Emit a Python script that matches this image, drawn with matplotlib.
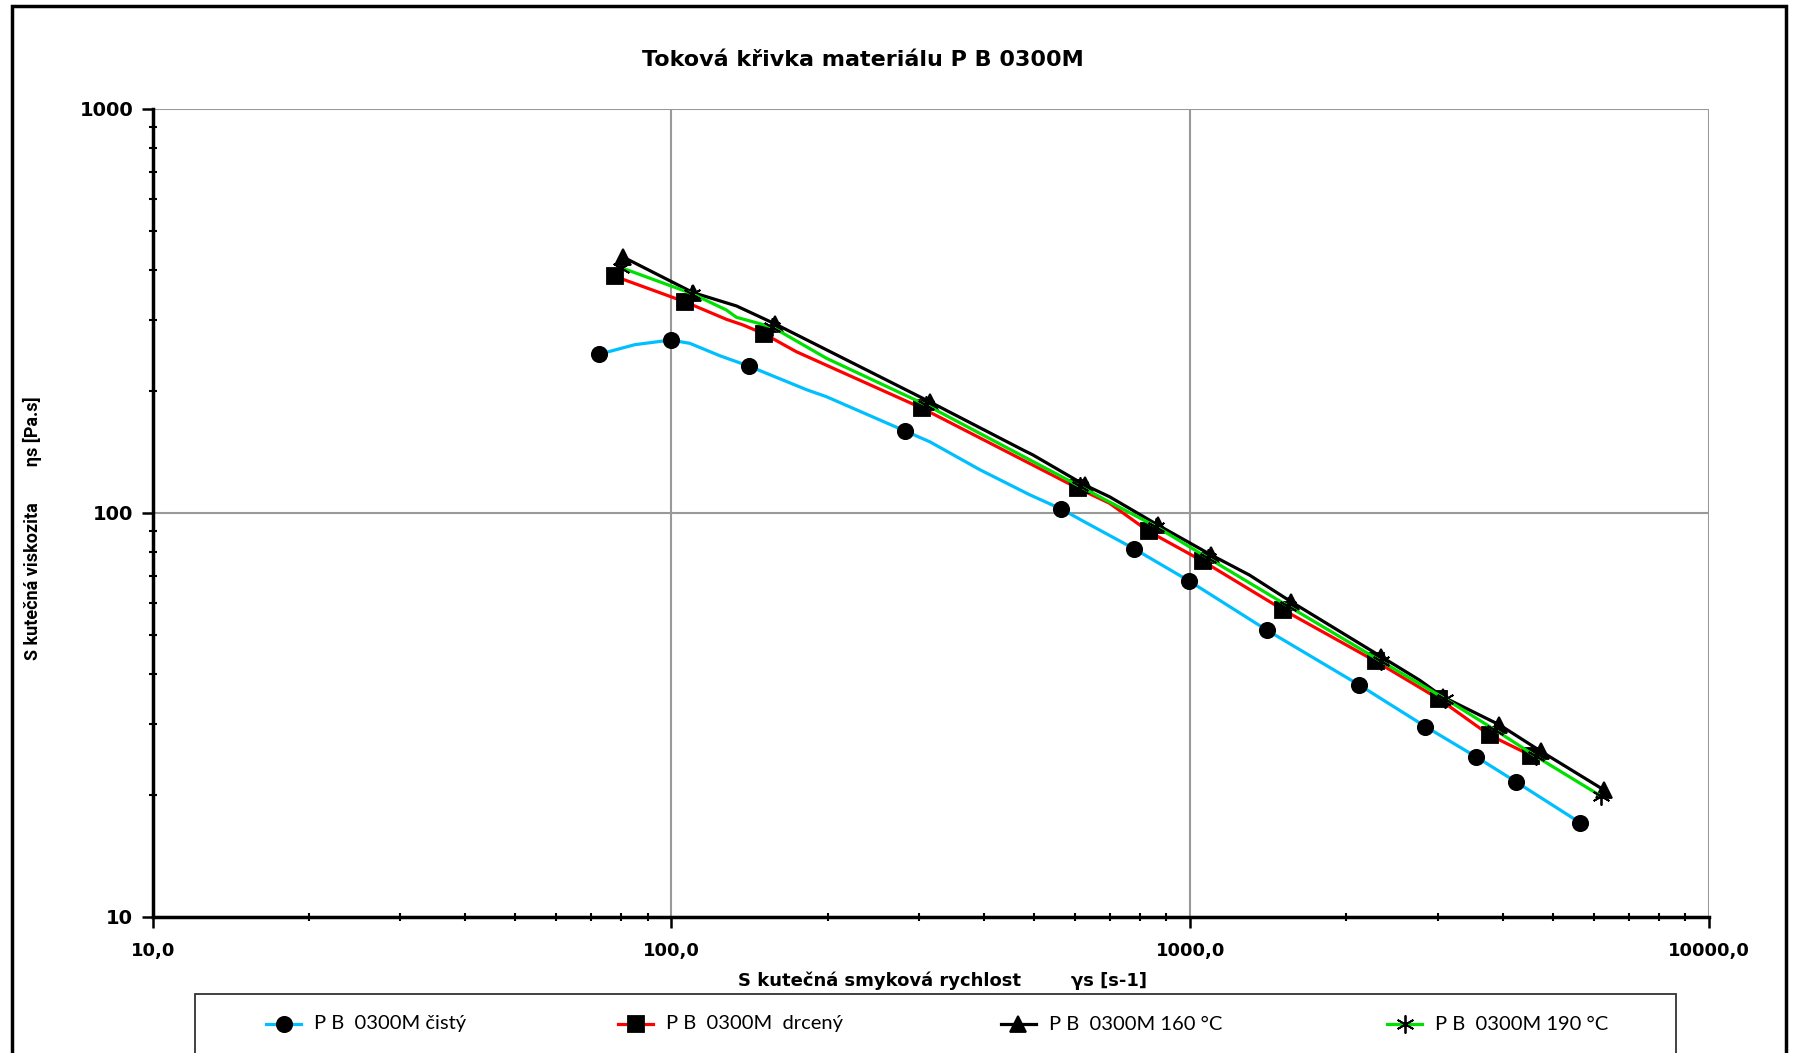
import matplotlib
matplotlib.use("Agg")
import matplotlib.pyplot as plt
from matplotlib.lines import Line2D
from matplotlib.patches import Rectangle
from matplotlib.ticker import FixedLocator, NullFormatter

# cistý (cyan, circles)
cis_x = [72.4, 85, 99.6, 108.5, 124, 141, 182, 199, 282, 315, 393, 490, 564, 630, 779,
         993, 1405, 2119, 2841, 3560, 4248, 5650]
cis_y = [247, 261, 268, 263, 245, 231, 202, 194, 159.6, 150, 128, 111, 102.3, 94.6, 81.6,
         68, 51.3, 37.5, 29.6, 24.9, 21.6, 17.1]
cis_marks = [0, 2, 5, 8, 12, 14, 15, 16, 17, 18, 19, 20, 21]

# drcený (red, squares)
drc_x = [77.9, 106.3, 127.6, 137.4, 151, 174, 303.4, 607, 699, 832, 1059, 1510, 2281,
         3021, 3776, 4541]
drc_y = [385, 333, 301.6, 292, 277.5, 250.8, 182, 115.2, 105.7, 90, 75.9, 57.6, 42.9,
         34.6, 28.2, 25.1]
drc_marks = [0, 1, 4, 6, 7, 9, 10, 11, 12, 13, 14, 15]

# 160 °C (black, triangles)
t160_x = [80.7, 110.2, 133.5, 158.2, 314.6, 476, 497.6, 626, 699, 866, 1098, 1301, 1565,
          2334, 2765, 3066, 3945, 4745, 6285]
t160_y = [430, 351, 325.4, 294, 188.5, 143.2, 139.2, 117.3, 109.7, 93.4, 78.7, 70.2, 60.3,
          44.1, 38.6, 35.1, 29.9, 25.7, 20.6]
t160_marks = [0, 1, 3, 4, 7, 9, 10, 12, 13, 15, 16, 17, 18]

# 190 °C (green, stars)
t190_x = [79.9, 109.6, 127.6, 133.5, 156.5, 199, 310, 612, 860, 1080, 1542, 2330, 3098,
          3876, 4634, 6200]
t190_y = [405, 349, 318, 305, 288.5, 241.5, 185, 116.5, 92.5, 77.5, 58.9, 43, 34.7,
          29, 25, 19.9]
t190_marks = [0, 1, 4, 6, 7, 8, 9, 10, 11, 12, 13, 14, 15]

labels = ["P B  0300M čistý", "P B  0300M  drcený", "P B  0300M 160 °C", "P B  0300M 190 °C"]
colors = ["#00BFFF", "#FF0000", "#000000", "#00E000"]

x_ticks = [10, 100, 1000, 10000]
x_ticklabels = ["10,0", "100,0", "1000,0", "10000,0"]
y_ticks = [10, 100, 1000]
y_ticklabels = ["10", "100", "1000"]

W, H = 1800, 1053
fig = plt.figure(figsize=(W / 100, H / 100), dpi=100)
ax = fig.add_axes([152.7 / W, 1 - 917 / H, (1709 - 152.7) / W, (917 - 109) / H])

star = (6, 2, 0)
series = [
    (cis_x, cis_y, cis_marks, "o", 11),
    (drc_x, drc_y, drc_marks, "s", 11),
    (t160_x, t160_y, t160_marks, "^", 12),
    (t190_x, t190_y, t190_marks, star, 13),
]
for (xs, ys, mk, m, ms), c in zip(series, colors):
    ax.plot(xs, ys, color=c, lw=2.3, marker=m, markevery=mk, ms=ms,
            mfc="black", mec="black", mew=1.3, zorder=3)

ax.set_xscale("log")
ax.set_yscale("log")
ax.set_xlim(10, 10000)
ax.set_ylim(10, 1000)

ax.xaxis.set_major_locator(FixedLocator(x_ticks))
ax.set_xticklabels(x_ticklabels)
ax.yaxis.set_major_locator(FixedLocator(y_ticks))
ax.set_yticklabels(y_ticklabels)
ax.xaxis.set_minor_formatter(NullFormatter())
ax.yaxis.set_minor_formatter(NullFormatter())

ax.grid(True, which="major", color="#999999", lw=1.5)
ax.set_axisbelow(True)
for s in ["top", "right"]:
    ax.spines[s].set_visible(False)
for s in ["left", "bottom"]:
    ax.spines[s].set_linewidth(2.5)

ax.tick_params(which="major", direction="out", length=8, width=1.8, labelsize=13)
ax.tick_params(which="minor", direction="inout", length=6, width=1.5)
ax.tick_params(axis="x", which="major", pad=10)
ax.tick_params(axis="y", which="major", pad=6, labelsize=14)
for lab in ax.get_xticklabels() + ax.get_yticklabels():
    lab.set_fontweight("bold")
    lab.set_family("DejaVu Sans")

lab_font = ["Roboto", "DejaVu Sans"]
fig.text(863 / W, 1 - 60 / H, "Toková křivka materiálu P B 0300M", ha="center",
         va="center", fontsize=16, fontweight="bold", family="DejaVu Sans")
fig.text(32 / W, 1 - 528 / H, "S kutečná viskozita        ηs [Pa.s]", rotation=90,
         ha="center", va="center", fontsize=13, fontweight="bold", family=lab_font)
fig.text(942 / W, 1 - 981 / H, "S kutečná smyková rychlost        γs [s-1]",
         ha="center", va="center", fontsize=13, fontweight="bold", family="DejaVu Sans")

# outer chart frame and legend box
fig.add_artist(Rectangle((11.5 / W, -0.05), (1786 - 11.5) / W, 1.05 - 5.7 / H,
                         transform=fig.transFigure, fill=False, ec="black", lw=2.5))
fig.add_artist(Rectangle((195 / W, -0.05), (1676 - 195) / W, 0.05 + (H - 994) / H,
                         transform=fig.transFigure, fill=False, ec="#333333", lw=1.3))

# legend entries
leg_x0 = [266, 618, 1001, 1387]
leg_y = 1 - 1024 / H
for (xs, ys, mk, m, ms), c, lab, x0 in zip(series, colors, labels, leg_x0):
    fig.add_artist(Line2D([x0 / W, (x0 + 35) / W], [leg_y, leg_y], color=c, lw=2.3,
                          transform=fig.transFigure))
    fig.add_artist(Line2D([(x0 + 17.5) / W], [leg_y], marker=m, ms=ms, mfc="black",
                          mec="black", mew=1.3, transform=fig.transFigure))
    fig.text((x0 + 48) / W, leg_y, lab, ha="left", va="center", fontsize=14.5,
             family=["Lato", "DejaVu Sans"])

fig.savefig("out.png", dpi=100)
